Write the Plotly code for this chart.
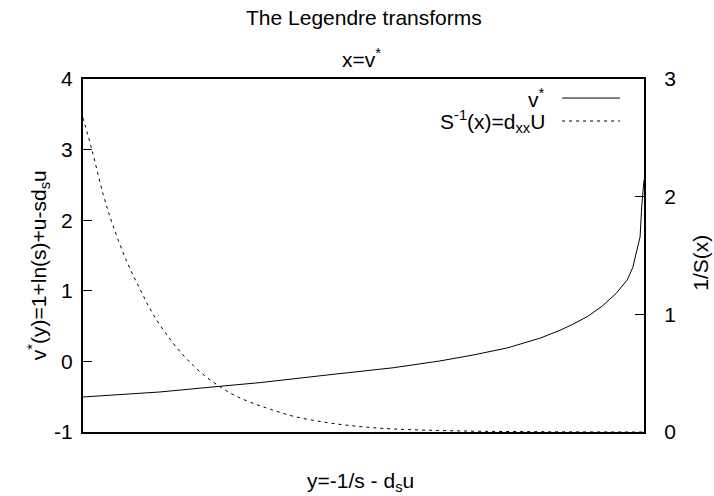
import plotly.graph_objects as go

# x positions (normalised horizontal coordinate, no tick labels in original)
x_solid = [0.0, 0.07, 0.137, 0.241, 0.316, 0.435, 0.553, 0.636, 0.695, 0.756, 0.815,
           0.850, 0.873, 0.900, 0.925, 0.950, 0.970, 0.980, 0.988, 0.993, 0.996, 1.0]
v_star = [-0.504, -0.470, -0.433, -0.355, -0.300, -0.193, -0.090, 0.006, 0.090, 0.190, 0.330,
          0.440, 0.525, 0.640, 0.780, 0.960, 1.153, 1.330, 1.578, 1.762, 2.200, 2.57]

x_dash = [0.0, 0.016, 0.036, 0.053, 0.078, 0.102, 0.125, 0.155, 0.185, 0.214, 0.244,
          0.275, 0.310, 0.333, 0.374, 0.435, 0.494, 0.553, 0.672, 0.832, 1.0]
inv_S = [2.67, 2.396, 2.02, 1.76, 1.45, 1.21, 1.00, 0.790, 0.620, 0.490, 0.385,
         0.300, 0.232, 0.195, 0.135, 0.080, 0.046, 0.026, 0.009, 0.002, 0.0]

left_ticks = [-1, 0, 1, 2, 3, 4]
left_labels = ["-1", "0", "1", "2", "3", "4"]
right_ticks = [0, 1, 2, 3]
right_labels = ["0", "1", "2", "3"]

FONT = "Liberation Sans, Arial, sans-serif"
FS = 21

fig = go.Figure()
fig.add_trace(go.Scatter(x=x_solid, y=v_star, mode="lines", line=dict(color="black", width=1),
                         name="v*", showlegend=False))
fig.add_trace(go.Scatter(x=x_dash, y=inv_S, mode="lines", yaxis="y2",
                         line=dict(color="black", width=1, dash="3px,4px"),
                         line_shape="spline", name="S^-1(x)=d_xx U", showlegend=False))

fig.update_layout(
    width=714, height=496,
    margin=dict(l=83, r=70, t=79, b=64),
    paper_bgcolor="white", plot_bgcolor="white",
    font=dict(family=FONT, size=FS, color="black"),
    xaxis=dict(range=[0, 1], showticklabels=False, ticks="", showgrid=False, zeroline=False,
               showline=True, linecolor="black", linewidth=2, mirror=True),
    yaxis=dict(range=[-1, 4], tickvals=left_ticks, ticktext=left_labels, ticks="inside",
               ticklen=9, tickcolor="black", showgrid=False, zeroline=False, showline=True,
               linecolor="black", linewidth=2, ticklabelstandoff=4),
    yaxis2=dict(range=[0, 3], tickvals=right_ticks, ticktext=right_labels, ticks="inside",
                ticklen=9, tickcolor="black", overlaying="y", side="right", showgrid=False,
                zeroline=False, showline=True, linecolor="black", linewidth=2,
                ticklabelstandoff=14),
    showlegend=False,
)

ann = [
    dict(text="The Legendre transforms", x=0.500, y=1.173),
    dict(text="x=v<sup>*</sup>", x=0.497, y=1.06),
    dict(text="y=-1/s - d<sub>s</sub>u", x=0.495, y=-0.142),
    dict(text="v<sup>*</sup>(y)=1+ln(s)+u-sd<sub>s</sub>u", x=-0.080, y=0.473, textangle=-90),
    dict(text="1/S(x)", x=1.100, y=0.48, textangle=-90),
]
for a in ann:
    fig.add_annotation(xref="paper", yref="paper", showarrow=False,
                       xanchor="center", yanchor="middle", **a)

# legend (gnuplot style: text right-aligned, sample to the right)
fig.add_annotation(xref="paper", yref="paper", showarrow=False, text="v<sup>*</sup>",
                   x=0.827, y=0.946, xanchor="right", yanchor="middle")
fig.add_annotation(xref="paper", yref="paper", showarrow=False,
                   text="S<sup>-1</sup>(x)=d<sub>xx</sub>U",
                   x=0.827, y=0.881, xanchor="right", yanchor="middle")
fig.add_shape(type="line", xref="paper", yref="paper", x0=0.854, x1=0.957, y0=0.946, y1=0.946,
              line=dict(color="black", width=1))
fig.add_shape(type="line", xref="paper", yref="paper", x0=0.854, x1=0.957, y0=0.881, y1=0.881,
              line=dict(color="black", width=1, dash="3px,4px"))

fig.write_html("out.html", config={"displayModeBar": False},
               post_script="document.body.style.margin='0';")
